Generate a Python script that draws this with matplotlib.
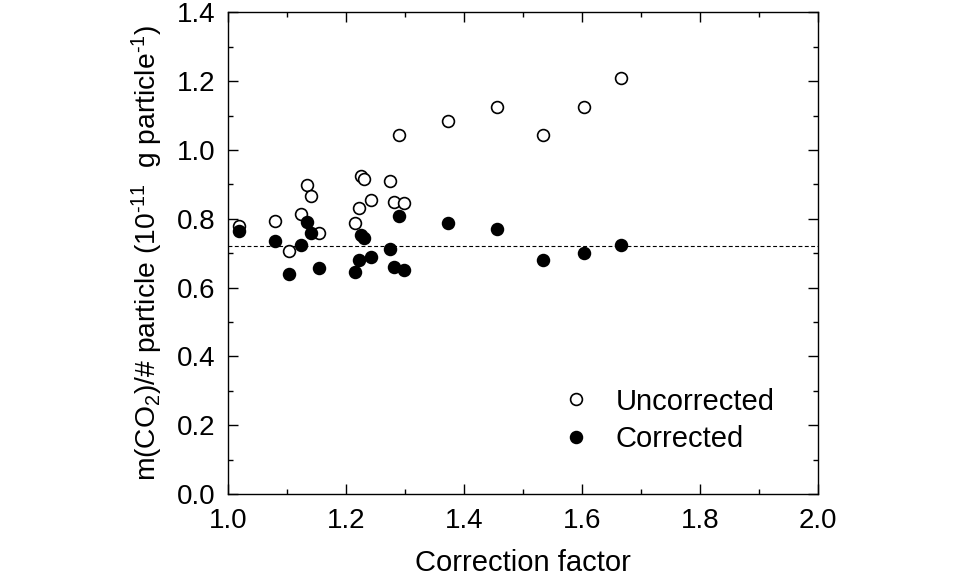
import matplotlib
matplotlib.use("Agg")
import matplotlib.pyplot as plt
from matplotlib.ticker import MultipleLocator, FormatStrFormatter

plt.rcParams['font.family'] = ['Liberation Sans', 'DejaVu Sans']
plt.rcParams['mathtext.fontset'] = 'custom'
plt.rcParams['mathtext.rm'] = 'Liberation Sans'
plt.rcParams['mathtext.it'] = 'Liberation Sans:italic'
plt.rcParams['mathtext.bf'] = 'Liberation Sans:bold'

# Data
corr_factor = [1.019, 1.080, 1.103, 1.124, 1.134, 1.141, 1.154, 1.215, 1.223, 1.226, 1.231,
               1.242, 1.275, 1.282, 1.290, 1.299, 1.373, 1.457, 1.535, 1.603, 1.666]
uncorrected = [0.779, 0.793, 0.707, 0.814, 0.897, 0.866, 0.759, 0.787, 0.831, 0.924, 0.916,
               0.855, 0.910, 0.848, 1.043, 0.847, 1.083, 1.125, 1.042, 1.124, 1.208]
corrected = [0.765, 0.735, 0.640, 0.723, 0.790, 0.759, 0.658, 0.646, 0.680, 0.753, 0.743,
             0.688, 0.713, 0.661, 0.808, 0.651, 0.789, 0.771, 0.679, 0.700, 0.724]
mean_level = 0.72

fig = plt.figure(figsize=(9.6, 5.78), dpi=100)
ax = fig.add_axes([0.2372, 0.1453, 0.8520 - 0.2372, 0.9787 - 0.1453])

ax.axhline(mean_level, color='black', lw=0.8, ls=(0, (3.5, 2.2)), zorder=1)
ax.plot(corr_factor, uncorrected, 'o', ms=8.5, mfc='white', mec='black', mew=1.2,
        ls='none', label='Uncorrected', zorder=2)
ax.plot(corr_factor, corrected, 'o', ms=8.5, mfc='black', mec='black', mew=1.2,
        ls='none', label='Corrected', zorder=3)

ax.set_xlim(1.0, 2.0)
ax.set_ylim(0.0, 1.4)
ax.xaxis.set_major_locator(MultipleLocator(0.2))
ax.xaxis.set_minor_locator(MultipleLocator(0.1))
ax.yaxis.set_major_locator(MultipleLocator(0.2))
ax.yaxis.set_minor_locator(MultipleLocator(0.1))
ax.xaxis.set_major_formatter(FormatStrFormatter('%.1f'))
ax.yaxis.set_major_formatter(FormatStrFormatter('%.1f'))
ax.tick_params(which='both', direction='in', top=True, right=True, width=1.0,
               labelsize=20, colors='black')
ax.tick_params(which='major', length=7)
ax.tick_params(which='minor', length=3.6)
ax.tick_params(axis='x', which='major', pad=10)
ax.tick_params(axis='y', which='major', pad=9)
for s in ax.spines.values():
    s.set_linewidth(1.0)

ax.set_xlabel('Correction factor', fontsize=21, labelpad=11)
ax.set_ylabel('m(CO$_2$)/# particle (10$^{\u2010 11}$  g particle$^{\u2010 1}$)',
              fontsize=20.3, labelpad=8)

leg = ax.legend(loc='upper left', bbox_to_anchor=(0.541, 0.221), frameon=False,
                fontsize=21, handletextpad=0.35, labelspacing=0.33, markerscale=1.0,
                borderaxespad=0, borderpad=0)

fig.savefig('out.png', dpi=100, transparent=True)
